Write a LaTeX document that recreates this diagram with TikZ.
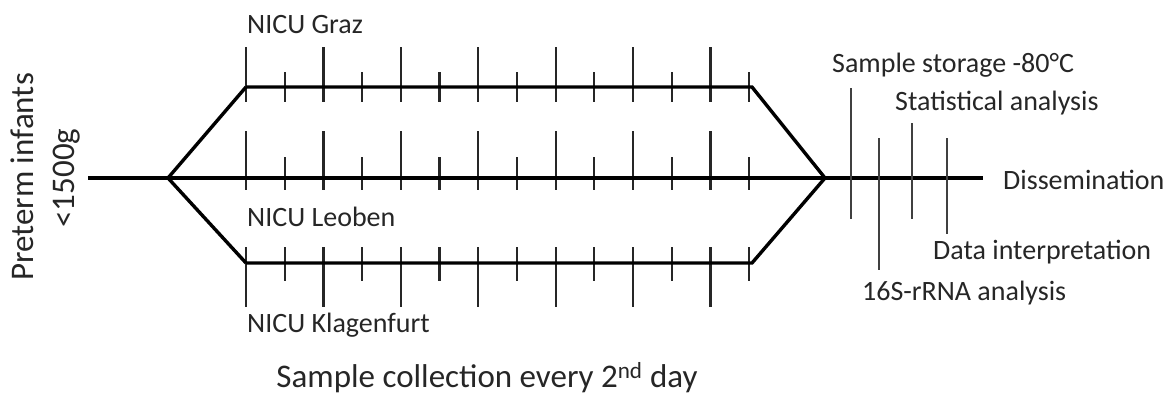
\documentclass[tikz,border=0pt]{standalone}
\usepackage{fontspec}
\setmainfont{Carlito}
\begin{document}
\begin{tikzpicture}[x=1pt,y=-1pt,
  mainline/.style={line width=3.4pt,line join=miter},
  tickline/.style={line width=2.2pt,black!85},
  steptick/.style={line width=1.6pt,black!75},
  lbl/.style={font=\fontsize{28}{32}\selectfont,inner sep=0pt,anchor=west,text=black!85},
  biglbl/.style={font=\fontsize{33}{36}\selectfont,inner sep=0pt,text=black!85}]
\useasboundingbox (0,0) rectangle (1175,397);
% main coordinates
\coordinate (L) at (88,178);
\coordinate (S) at (168,178);
\coordinate (E) at (825,178);
\coordinate (R) at (983,178);
\coordinate (T0) at (246,87);
\coordinate (T1) at (752,87);
\coordinate (B0) at (246,263);
\coordinate (B1) at (752,263);
% ticks
\foreach \i in {0,...,13}{
  \pgfmathsetmacro{\xx}{246+\i*38.7}
  \ifodd\i
    \draw[tickline] (\xx,72) -- (\xx,102);
    \draw[tickline] (\xx,157) -- (\xx,190);
    \draw[tickline] (\xx,247) -- (\xx,281);
  \else
    \draw[tickline] (\xx,47) -- (\xx,102);
    \draw[tickline] (\xx,131) -- (\xx,190);
    \draw[tickline] (\xx,247) -- (\xx,307);
  \fi
}
% main lines
\draw[mainline] (L) -- (R);
\draw[mainline] (T0) -- (S) -- (B0);
\draw[mainline] (T0) -- (T1) -- (E) -- (B1) -- (B0);
% later steps
\draw[steptick] (851,88) -- (851,219);
\draw[steptick] (879,138) -- (879,270);
\draw[steptick] (912,123) -- (912,219);
\draw[steptick] (947,138) -- (947,234);
% labels
\node[lbl] (graz) at (247,25) {NICU Graz};
\node[lbl] (leoben) at (247,217) {NICU Leoben};
\node[lbl] (klag) at (247,325) {NICU Klagenfurt};
\node[biglbl] (coll) at (487,378) {Sample collection every 2\textsuperscript{nd} day};
\node[biglbl,rotate=90] (pre) at (22,177) {Preterm infants};
\node[biglbl,rotate=90] (lim) at (67,178) {<1500g};
\node[lbl] (stor) at (832,65) {Sample storage -80°C};
\node[lbl] (stat) at (895,103) {Statistical analysis};
\node[lbl] (diss) at (1003,180) {Dissemination};
\node[lbl] (data) at (933,252) {Data interpretation};
\node[lbl] (rna) at (862,293) {16S-rRNA analysis};
\end{tikzpicture}
\end{document}
